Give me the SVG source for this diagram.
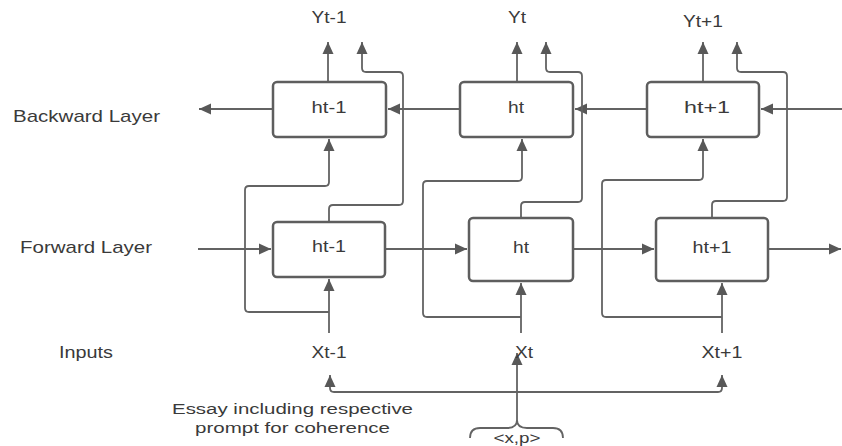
<svg xmlns="http://www.w3.org/2000/svg" width="842" height="446" viewBox="0 0 842 446">
<style>
  text { font-family: "Liberation Sans", Arial, sans-serif; font-size: 17px; fill: #3a3a3a; }
  .c { text-anchor: middle; }
  .s { font-size: 15.5px; }
  .box { fill: #fff; stroke: #5e5e5e; stroke-width: 2.5; }
  .ln { fill: none; stroke: #636363; stroke-width: 1.8; }
  .ar { fill: none; stroke: #636363; stroke-width: 1.8; marker-end: url(#ah); }
</style>
<defs>
  <marker id="ah" viewBox="0 0 12 12" refX="12" refY="6" markerWidth="12" markerHeight="12" orient="auto" markerUnits="userSpaceOnUse">
    <path d="M0,0.5 L12,6 L0,11.5 z" fill="#585858"/>
  </marker>
</defs>
<rect width="842" height="446" fill="#fff"/>

<g id="connectors">
  <!-- backward layer -->
  <path class="ar" d="M842,109 H761"/>
  <path class="ar" d="M647,109 H575"/>
  <path class="ar" d="M460,109 H388"/>
  <path class="ar" d="M273,109 H199"/>
  <!-- forward layer -->
  <path class="ar" d="M198,249 H271"/>
  <path class="ar" d="M385,249 H467"/>
  <path class="ar" d="M573,249 H654"/>
  <path class="ar" d="M768,249 H841"/>
  <!-- outputs -->
  <path class="ar" d="M328,82 V42"/>
  <path class="ar" d="M517,82 V42"/>
  <path class="ar" d="M703,82 V42"/>
  <!-- forward to output -->
  <path class="ar" d="M329,222 V209 Q329,205 333,205 H399 Q403,205 403,201 V76 Q403,72 399,72 H366 Q362,72 362,68 V42"/>
  <path class="ar" d="M521,218 V206 Q521,202 525,202 H578 Q582,202 582,198 V76 Q582,72 578,72 H550 Q546,72 546,68 V42"/>
  <path class="ar" d="M712,218 V205 Q712,201 716,201 H783 Q787,201 787,197 V76 Q787,72 783,72 H741 Q737,72 737,68 V42"/>
  <!-- inputs to forward -->
  <path class="ar" d="M329,333 V279"/>
  <path class="ar" d="M521,333 V283"/>
  <path class="ar" d="M722,333 V283"/>
  <!-- inputs to backward -->
  <path class="ar" d="M329,312 H249 Q245,312 245,308 V190 Q245,186 249,186 H325 Q329,186 329,182 V139"/>
  <path class="ar" d="M521,317 H427 Q423,317 423,313 V185 Q423,181 427,181 H518 Q522,181 522,177 V139"/>
  <path class="ar" d="M722,317 H606 Q602,317 602,313 V184 Q602,180 606,180 H699 Q703,180 703,176 V139"/>
  <!-- essay distribution -->
  <path class="ar" d="M517,392 H334 Q330,392 330,388 V375"/>
  <path class="ar" d="M517,392 H718 Q722,392 722,388 V375"/>
  <path class="ar" d="M517,420 V353"/>
  <path class="ln" d="M470,438 Q470,428 480,428 H507 Q517,428 517,420 Q517,428 527,428 H553 Q563,428 563,438"/>
</g>

<g id="bwd1"><rect class="box" x="273" y="82" width="113" height="55" rx="4"/><text class="c" x="329" y="113" textLength="35" lengthAdjust="spacingAndGlyphs">ht-1</text></g>
<g id="bwd2"><rect class="box" x="460" y="82" width="113" height="55" rx="4"/><text class="c" x="516" y="113" textLength="16" lengthAdjust="spacingAndGlyphs">ht</text></g>
<g id="bwd3"><rect class="box" x="647" y="82" width="112" height="55" rx="4"/><text class="c" x="707" y="113" textLength="46" lengthAdjust="spacingAndGlyphs">ht+1</text></g>

<g id="fwd1"><rect class="box" x="273" y="222" width="112" height="55" rx="4"/><text class="c" x="329" y="252" textLength="34" lengthAdjust="spacingAndGlyphs">ht-1</text></g>
<g id="fwd2"><rect class="box" x="469" y="218" width="104" height="63" rx="4"/><text class="c" x="521" y="253" textLength="16" lengthAdjust="spacingAndGlyphs">ht</text></g>
<g id="fwd3"><rect class="box" x="656" y="218" width="112" height="63" rx="4"/><text class="c" x="712" y="253" textLength="39" lengthAdjust="spacingAndGlyphs">ht+1</text></g>

<g id="y1"><text class="c" x="329" y="23" textLength="35" lengthAdjust="spacingAndGlyphs">Yt-1</text></g>
<g id="y2"><text class="c" x="517" y="23" textLength="18" lengthAdjust="spacingAndGlyphs">Yt</text></g>
<g id="y3"><text class="c" x="703" y="27" textLength="40" lengthAdjust="spacingAndGlyphs">Yt+1</text></g>

<g id="x1"><text class="c" x="329" y="358" textLength="35" lengthAdjust="spacingAndGlyphs">Xt-1</text></g>
<g id="x2"><text class="c" x="524" y="358" textLength="18" lengthAdjust="spacingAndGlyphs">Xt</text></g>
<g id="x3"><text class="c" x="722" y="358" textLength="41" lengthAdjust="spacingAndGlyphs">Xt+1</text></g>

<g id="labels">
  <text x="13" y="122" textLength="147" lengthAdjust="spacingAndGlyphs">Backward Layer</text>
  <text x="20" y="253" textLength="132" lengthAdjust="spacingAndGlyphs">Forward Layer</text>
  <text x="59" y="358" textLength="54" lengthAdjust="spacingAndGlyphs">Inputs</text>
</g>
<g id="essay">
  <text class="s" x="172" y="414" textLength="241" lengthAdjust="spacingAndGlyphs">Essay including respective</text>
  <text class="s" x="195" y="433" textLength="195" lengthAdjust="spacingAndGlyphs">prompt for coherence</text>
</g>
<g id="xp"><text class="c s" x="517" y="443" textLength="47" lengthAdjust="spacingAndGlyphs">&lt;x,p&gt;</text></g>
</svg>
